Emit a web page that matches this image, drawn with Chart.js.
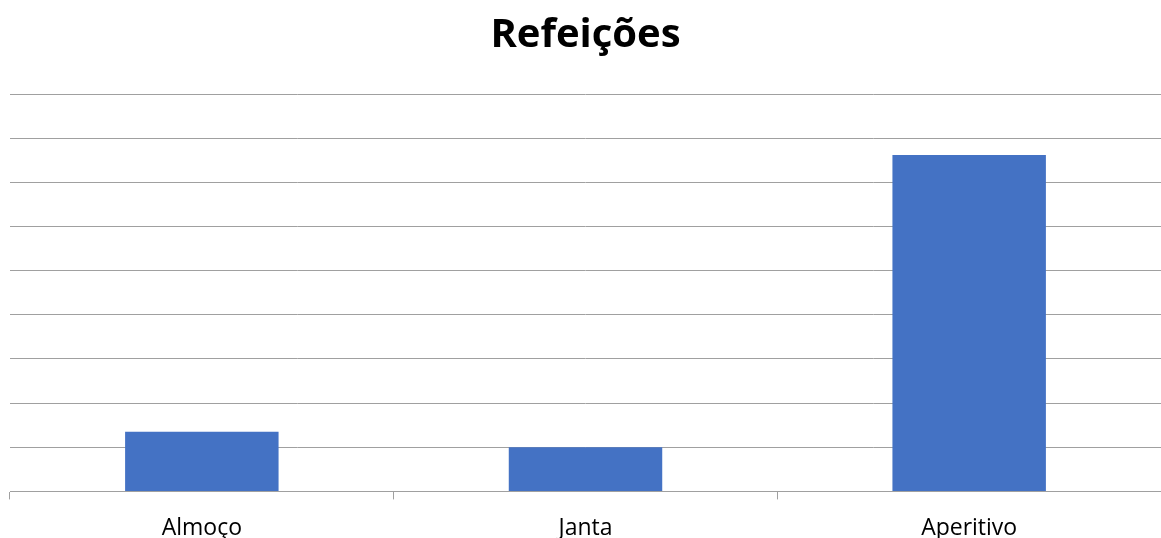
<!DOCTYPE html>
<html>
<head>
<meta charset="utf-8">
<script src="https://cdn.jsdelivr.net/npm/chart.js@4"></script>
<style>
  html, body { margin: 0; padding: 0; background: #fff; }
  #wrap { width: 1161px; height: 538px; }
</style>
</head>
<body>
<div id="wrap"><canvas id="myChart"></canvas></div>
<script>
// dados do gráfico
var categorias = ['Almoço', 'Janta', 'Aperitivo'];
var valores = [1.35, 1.0, 7.62];
var titulo = 'Refeições';

var ctx = document.getElementById('myChart').getContext('2d');
window.myChart = new Chart(ctx, {
    type: 'bar',
    data: {
        labels: categorias,
        datasets: [{
            label: titulo,
            data: valores,
            backgroundColor: '#4472c4',
            borderWidth: 0,
            categoryPercentage: 1,
            barPercentage: 0.4
        }]
    },
    options: {
        responsive: true,
        maintainAspectRatio: false,
        animation: false,
        layout: { padding: { left: 10, right: 0, top: 0, bottom: -19 } },
        plugins: {
            legend: { display: false },
            tooltip: { enabled: false },
            title: {
                display: true,
                text: titulo,
                color: '#000',
                font: { family: 'Open Sans', size: 40, weight: 'bold' },
                padding: { top: 12, bottom: 34 }
            }
        },
        scales: {
            x: {
                grid: {
                    drawOnChartArea: false,
                    drawTicks: true,
                    tickLength: 8,
                    color: '#a0a0a0'
                },
                border: { color: '#a0a0a0', width: 1 },
                ticks: {
                    color: '#000',
                    font: { family: 'Open Sans', size: 23 },
                    padding: 15
                }
            },
            y: {
                min: 0,
                max: 9,
                ticks: { display: false, stepSize: 1 },
                grid: { color: '#a0a0a0', lineWidth: 1, drawTicks: false },
                border: { display: false }
            }
        }
    }
});
</script>
</body>
</html>
